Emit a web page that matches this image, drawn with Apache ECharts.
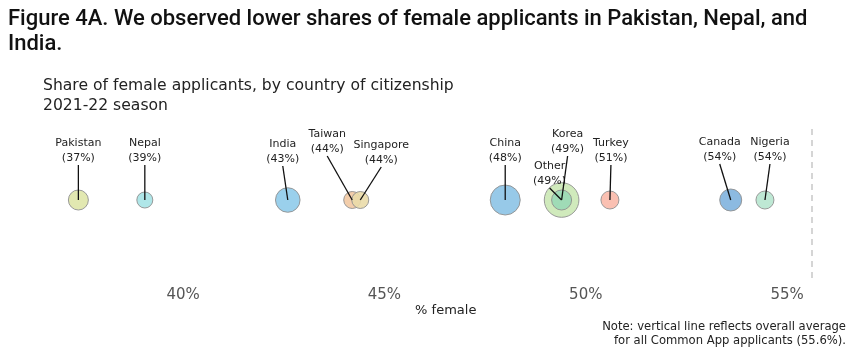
<!DOCTYPE html>
<html>
<head>
<meta charset="utf-8">
<script src="https://cdn.jsdelivr.net/npm/echarts@6/dist/echarts.min.js"></script>
<style>
  html, body { margin: 0; padding: 0; background: #fff; }
  #chart { width: 854px; height: 353px; }
</style>
</head>
<body>
<div id="chart"></div>
<script>
// data
var countries = ['Pakistan', 'Nepal', 'India', 'Taiwan', 'Singapore', 'China', 'Other', 'Korea', 'Turkey', 'Canada', 'Nigeria'];
var shareFemale = [37.4, 39.05, 42.6, 44.2, 44.4, 48.0, 49.4, 49.4, 50.6, 53.6, 54.45];
// relative applicant counts (bubble area), estimated
var applicants = [100, 64, 151, 72, 72, 225, 300, 100, 81, 121, 81];
var overallAvg = 55.6;
var xTicks = [40, 45, 50, 55];

// styling
var colors = ['#dfe6a8', '#a6e3e6', '#8fcbea', '#f2c9a2', '#eadcaa', '#8cc3e6', '#cbe8b5', '#9ad9b6', '#f9b9aa', '#80b2de', '#b7e6cf'];
// label anchor relative to bubble centre, px
var labelOffsets = [[0, -35], [0, -35], [-5, -34], [-25, -44], [21, -33], [0, -35], [-12, -12], [6, -44], [1, -35], [-11, -36], [5, -36]];

var myChart = echarts.init(document.getElementById('chart'));

var option = {
    animation: false,
    title: [
        {
            text: 'Figure 4A. We observed lower shares of female applicants in Pakistan, Nepal, and\nIndia.',
            left: 8,
            top: 7,
            padding: 0,
            textStyle: { fontFamily: 'Roboto', fontSize: 22, fontWeight: 500, color: '#111', lineHeight: 25 }
        },
        {
            text: 'Share of female applicants, by country of citizenship\n2021-22 season',
            left: 43,
            top: 76,
            padding: 0,
            textStyle: { fontFamily: 'DejaVu Sans', fontSize: 15.6, fontWeight: 'normal', color: '#222', lineHeight: 20 }
        }
    ],
    graphic: [
        {
            type: 'text',
            x: 846,
            y: 320,
            style: {
                text: 'Note: vertical line reflects overall average\nfor all Common App applicants (55.6%).',
                align: 'right',
                verticalAlign: 'top',
                font: '11.6px "DejaVu Sans"',
                lineHeight: 14,
                fill: '#222'
            }
        }
    ],
    grid: { left: 22, right: 6.5, top: 128, bottom: 75 },
    xAxis: {
        type: 'value',
        min: 36,
        max: 56.5,
        interval: 1,
        name: '% female',
        nameLocation: 'middle',
        nameGap: 24,
        nameTextStyle: { fontFamily: 'DejaVu Sans', fontSize: 13, color: '#222', padding: [0, 0, 0, 22] },
        axisLine: { show: false },
        axisTick: { show: false },
        splitLine: { show: false },
        axisLabel: {
            margin: 10,
            fontFamily: 'DejaVu Sans',
            fontSize: 15,
            color: '#555',
            formatter: function (v) {
                return xTicks.indexOf(v) >= 0 ? v + '%' : '';
            }
        }
    },
    yAxis: { type: 'value', min: -1.04, max: 0.96, show: false },
    series: [
        {
            type: 'scatter',
            data: countries.map(function (c, i) {
                return {
                    name: c,
                    value: [shareFemale[i], 0, applicants[i]],
                    itemStyle: { color: colors[i] }
                };
            }),
            symbolSize: function (val) { return 2 * Math.sqrt(val[2]); },
            itemStyle: { borderColor: '#8f8f8f', borderWidth: 1, opacity: 0.9 },
            markLine: {
                silent: true,
                symbol: 'none',
                label: { show: false },
                lineStyle: { type: [6, 5], color: '#c8c8c8', width: 1.5 },
                data: [{ xAxis: overallAvg }]
            },
            z: 2
        },
        {
            type: 'custom',
            z: 5,
            clip: false,
            data: countries.map(function (c, i) { return [shareFemale[i], 0, i]; }),
            renderItem: function (params, api) {
                var i = api.value(2);
                var p = api.coord([api.value(0), 0]);
                var off = labelOffsets[i];
                var ax = p[0] + off[0];
                var ay = p[1] + off[1];
                return {
                    type: 'group',
                    children: [
                        {
                            type: 'line',
                            shape: { x1: ax, y1: ay, x2: p[0], y2: p[1] },
                            style: { stroke: '#111', lineWidth: 1.3 }
                        },
                        {
                            type: 'text',
                            x: ax,
                            y: ay + 1,
                            style: {
                                text: countries[i] + '\n(' + Math.round(shareFemale[i]) + '%)',
                                align: 'center',
                                verticalAlign: 'bottom',
                                font: '11px "DejaVu Sans"',
                                lineHeight: 15.5,
                                fill: '#222'
                            }
                        }
                    ]
                };
            }
        }
    ]
};

myChart.setOption(option);
</script>
</body>
</html>
